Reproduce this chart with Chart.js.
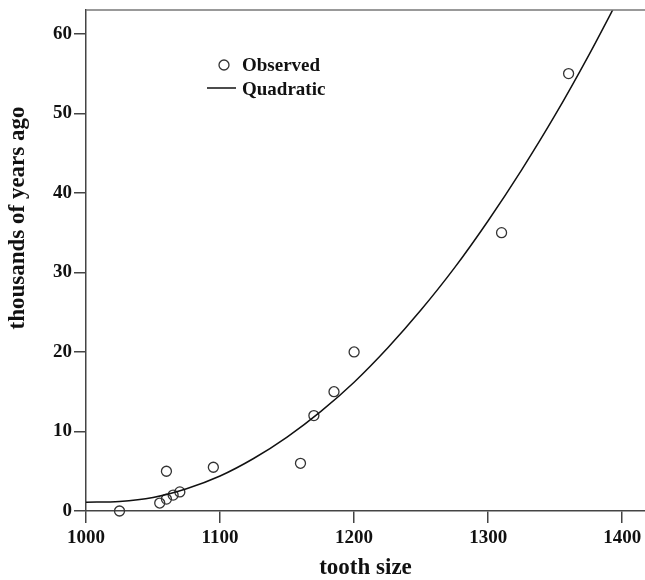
<!DOCTYPE html>
<html>
<head>
<meta charset="utf-8">
<title>tooth size</title>
<script src="https://cdn.jsdelivr.net/npm/chart.js@4.4.1/dist/chart.umd.min.js"></script>
<style>
   body { margin: 0; background: #fff; overflow: hidden; }
   canvas { display: block; }
</style>
</head>
<body>
<canvas id="myChart" width="645" height="580"></canvas>
<script>
// observed points
const observedX = [1025, 1055, 1060, 1065, 1070, 1060, 1095, 1160, 1170, 1185, 1200, 1310, 1360];
const observedY = [0, 1, 1.5, 2, 2.4, 5, 5.5, 6, 12, 15, 20, 35, 55];

// quadratic curve
const curveX = [1000, 1025, 1050, 1075, 1100, 1125, 1150, 1175, 1200, 1225, 1250, 1275, 1300, 1325, 1350, 1375, 1400];
const curveY = [1.1, 1.2, 1.7, 2.8, 4.4, 6.6, 9.3, 12.5, 16.2, 20.5, 25.3, 30.6, 36.5, 42.9, 49.8, 57.3, 65.3];

const xTicks = [1000, 1100, 1200, 1300, 1400];
const yTicks = [0, 10, 20, 30, 40, 50, 60];

const legendLabels = ['Observed', 'Quadratic'];
const xTitle = 'tooth size';
const yTitle = 'thousands of years ago';

const FONT = '"Liberation Serif", "Times New Roman", serif';
const AXIS = '#444';

const toPoints = (xs, ys) => xs.map((x, i) => ({ x: x, y: ys[i] }));

const keepTicks = (list) => (scale) => {
   scale.ticks = list.map((v) => ({ value: v }));
}

const extras = {
   id: 'extras',
   afterDraw: (chart) => {
      const ctx = chart.ctx;
      const area = chart.chartArea;
      ctx.save();

      // top frame line
      ctx.strokeStyle = '#777';
      ctx.lineWidth = 1.5;
      ctx.beginPath();
      ctx.moveTo(area.left, area.top);
      ctx.lineTo(chart.width, area.top);
      ctx.stroke();

      // legend
      ctx.font = 'bold 19px ' + FONT;
      ctx.fillStyle = '#111';
      ctx.textBaseline = 'middle';
      ctx.textAlign = 'left';
      ctx.strokeStyle = '#333';
      ctx.lineWidth = 1.3;
      ctx.beginPath();
      ctx.arc(224, 65, 5, 0, Math.PI * 2);
      ctx.stroke();
      ctx.fillText(legendLabels[0], 242, 66);
      ctx.strokeStyle = '#111';
      ctx.lineWidth = 1.5;
      ctx.beginPath();
      ctx.moveTo(207, 88);
      ctx.lineTo(236, 88);
      ctx.stroke();
      ctx.fillText(legendLabels[1], 242, 90);

      // y title
      ctx.font = 'bold 23px ' + FONT;
      ctx.textAlign = 'center';
      ctx.translate(18, 218);
      ctx.rotate(-Math.PI / 2);
      ctx.fillText(yTitle, 0, 0);
      ctx.restore();
   }
}

const createChart = () => {
   const data = {
      datasets: [
         {
            type: 'line',
            label: legendLabels[1],
            data: toPoints(curveX, curveY),
            borderColor: '#111',
            borderWidth: 1.5,
            pointRadius: 0,
            fill: false,
            cubicInterpolationMode: 'monotone',
         },
         {
            type: 'scatter',
            label: legendLabels[0],
            data: toPoints(observedX, observedY),
            pointStyle: 'circle',
            pointRadius: 5,
            pointBorderWidth: 1.3,
            borderColor: '#333',
            backgroundColor: 'rgba(0,0,0,0)',
            clip: false,
         },
      ]
   };
   const config = {
      data: data,
      options: {
         responsive: false,
         animation: false,
         layout: { autoPadding: false, padding: { top: 10, right: 0, left: 0, bottom: 0 } },
         plugins: {
            legend: { display: false },
            tooltip: { enabled: false },
         },
         scales: {
            x: {
               type: 'linear',
               min: 1000,
               max: 1417,
               afterBuildTicks: keepTicks(xTicks),
               afterFit: (scale) => { scale.height = 69; scale.paddingRight = 0; scale.paddingLeft = 0; },
               border: { display: true, color: AXIS, width: 1.5 },
               grid: { drawOnChartArea: false, drawTicks: true, tickLength: 12, color: AXIS, lineWidth: 1.5 },
               ticks: {
                  color: '#111',
                  padding: 4,
                  maxRotation: 0,
                  callback: (v) => String(v),
                  font: { family: FONT, size: 19, weight: 'bold' },
               },
               title: {
                  display: true,
                  text: xTitle,
                  color: '#111',
                  padding: 0,
                  font: { family: FONT, size: 23, weight: 'bold', lineHeight: 1 },
               },
            },
            y: {
               type: 'linear',
               min: 0,
               max: 63,
               afterBuildTicks: keepTicks(yTicks),
               afterFit: (scale) => { scale.width = 86; scale.paddingTop = 0; scale.paddingBottom = 0; },
               border: { display: true, color: AXIS, width: 1.5 },
               grid: { drawOnChartArea: false, drawTicks: true, tickLength: 12, color: AXIS, lineWidth: 1.5 },
               ticks: {
                  color: '#111',
                  padding: 2,
                  callback: (v) => String(v),
                  font: { family: FONT, size: 19, weight: 'bold' },
               },
            },
         }
      },
      plugins: [extras]
   };
   const ctx = document.getElementById('myChart').getContext('2d');
   return new Chart(ctx, config);
}

var myChart = createChart();
</script>
</body>
</html>
